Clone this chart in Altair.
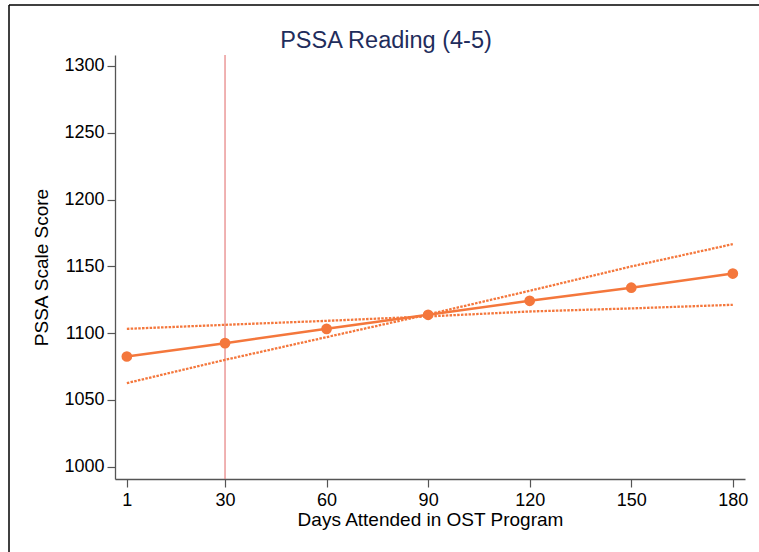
import altair as alt
import pandas as pd

# ---- data ----
days = [1, 30, 60, 90, 120, 150, 180]
predicted = [1082.5, 1092.5, 1103.2, 1113.7, 1124.2, 1134.0, 1144.6]
bound_flat = [1103.2, 1106.2, 1109.2, 1112.5, 1116.2, 1118.5, 1121.2]
bound_steep = [1062.6, 1080.0, 1097.0, 1114.0, 1131.7, 1149.9, 1166.6]
cutoff_day = [30]

x_ticks = [1, 30, 60, 90, 120, 150, 180]
y_ticks = [1000, 1050, 1100, 1150, 1200, 1250, 1300]

main_df = pd.DataFrame({"day": days, "score": predicted})
ci_df = pd.DataFrame({
    "day": days * 2,
    "score": bound_flat + bound_steep,
    "bound": ["flat"] * len(days) + ["steep"] * len(days),
})
cut_df = pd.DataFrame({"day": cutoff_day})

ORANGE = "#F4773C"
FONT = "Liberation Sans"

x_scale = alt.Scale(domain=[-2.5, 183.6], nice=False, zero=False)
y_scale = alt.Scale(domain=[990.8, 1308.2], nice=False, zero=False)

x_enc = alt.X("day:Q", scale=x_scale,
              axis=alt.Axis(values=x_ticks, title="Days Attended in OST Program",
                            format="d"))
y_enc = alt.Y("score:Q", scale=y_scale,
              axis=alt.Axis(values=y_ticks, title="PSSA Scale Score",
                            format="d"))

line = alt.Chart(main_df).mark_line(color=ORANGE, strokeWidth=2.5).encode(
    x=x_enc, y=y_enc
)

cut = alt.Chart(cut_df).mark_rule(color="#E06666", strokeWidth=1).encode(
    x=alt.X("day:Q", scale=x_scale)
)

ci = alt.Chart(ci_df).mark_line(color=ORANGE, strokeWidth=2.3,
                                strokeDash=[2.5, 1.3]).encode(
    x=alt.X("day:Q", scale=x_scale),
    y=alt.Y("score:Q", scale=y_scale),
    detail="bound:N",
)

pts = alt.Chart(main_df).mark_point(color=ORANGE, filled=True, opacity=1,
                                    size=115).encode(
    x=alt.X("day:Q", scale=x_scale),
    y=alt.Y("score:Q", scale=y_scale),
)

# outer frame (cropped border seen at left and top of the reference)
frame_left = alt.Chart(cut_df).mark_rule(color="black", strokeWidth=1.5).encode(
    x=alt.value(-106), y=alt.value(-50), y2=alt.value(520)
)
frame_top = alt.Chart(cut_df).mark_rule(color="black", strokeWidth=1.5).encode(
    x=alt.value(-106), x2=alt.value(660), y=alt.value(-50)
)

chart = alt.layer(line, cut, ci, pts, frame_left, frame_top).properties(
    width=630,
    height=424,
    title=alt.TitleParams("PSSA Reading (4-5)", fontSize=23.5, color="#1F2D5C",
                          font=FONT, fontWeight="normal", anchor="middle",
                          dx=-44, offset=-48),
    padding={"left": 115, "top": 55, "right": 14, "bottom": 73},
    autosize=alt.AutoSizeParams(type="none"),
    background="white",
).configure_view(stroke=None).configure_axis(
    labelFont=FONT, titleFont=FONT, labelColor="black", titleColor="black",
    titleFontWeight="normal", domainColor="#555555", tickColor="#555555",
    domainWidth=1.3, tickWidth=1.2, grid=False,
    labelFontSize=18, titleFontSize=19, tickSize=8, labelFlush=False,
).configure_axisX(
    labelPadding=4, titlePadding=1,
).configure_axisY(
    labelPadding=3, titlePadding=12,
)

chart.save("out.html", embed_options={"renderer": "svg", "actions": False})
